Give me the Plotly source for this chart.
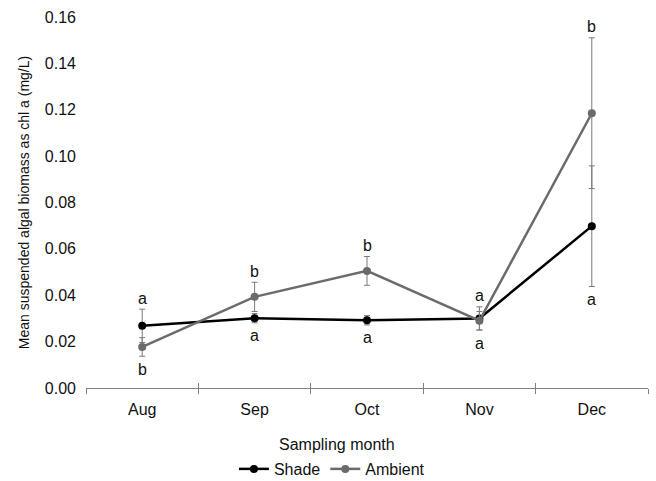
import plotly.graph_objects as go

# Sampling months and mean suspended algal biomass (chl a, mg/L)
months = ["Aug", "Sep", "Oct", "Nov", "Dec"]
shade_mean = [0.0268, 0.0301, 0.0292, 0.0300, 0.0698]
shade_err = [0.0072, 0.0020, 0.0020, 0.0050, 0.0260]
ambient_mean = [0.0177, 0.0393, 0.0505, 0.0290, 0.1185]
ambient_err = [0.0040, 0.0063, 0.0062, 0.0040, 0.0325]

# Significance letters placed above / below each month's error bars
top_letters = ["a", "b", "b", "a", "b"]
bottom_letters = ["b", "a", "a", "a", "a"]

FONT = "Liberation Sans, Arial, sans-serif"
ERR_COLOR = "#7a7a7a"
TXT = "#111111"

fig = go.Figure()

fig.add_trace(go.Scatter(
    x=months, y=shade_mean, name="Shade", mode="lines+markers",
    line=dict(color="#000000", width=2.5),
    marker=dict(color="#000000", size=8),
    error_y=dict(type="data", array=shade_err, visible=True,
                 color=ERR_COLOR, thickness=1, width=3),
))
fig.add_trace(go.Scatter(
    x=months, y=ambient_mean, name="Ambient", mode="lines+markers",
    line=dict(color="#6b6b6b", width=2.5),
    marker=dict(color="#6b6b6b", size=8),
    error_y=dict(type="data", array=ambient_err, visible=True,
                 color=ERR_COLOR, thickness=1, width=3),
))

# letters sit just beyond the outermost error-bar end of each month
for i, m in enumerate(months):
    hi = max(shade_mean[i] + shade_err[i], ambient_mean[i] + ambient_err[i])
    lo = min(shade_mean[i] - shade_err[i], ambient_mean[i] - ambient_err[i])
    fig.add_annotation(x=m, y=hi, text=top_letters[i], showarrow=False,
                       yanchor="middle", yshift=11,
                       font=dict(family=FONT, size=16, color=TXT))
    fig.add_annotation(x=m, y=lo, text=bottom_letters[i], showarrow=False,
                       yanchor="middle", yshift=-13,
                       font=dict(family=FONT, size=16, color=TXT))

fig.add_annotation(text="Sampling month", xref="paper", yref="paper",
                   x=0.4466, y=-0.1536, showarrow=False,
                   xanchor="center", yanchor="middle",
                   font=dict(family=FONT, size=16, color=TXT))

fig.update_layout(
    width=656, height=481,
    margin=dict(l=86, r=8, t=17, b=93, autoexpand=False),
    paper_bgcolor="white", plot_bgcolor="white",
    font=dict(family=FONT, size=16, color=TXT),
    showlegend=True,
    legend=dict(orientation="h", xref="container", yref="container",
                x=0.506, y=0.025, xanchor="center", yanchor="middle",
                font=dict(family=FONT, size=16, color=TXT),
                itemwidth=30, tracegroupgap=0, bgcolor="rgba(0,0,0,0)"),
    xaxis=dict(
        type="category", categoryorder="array", categoryarray=months,
        range=[-0.5, 4.5], showline=True, linecolor="#808080", linewidth=1,
        ticks="outside", ticklen=5, tickcolor="#808080", tickson="boundaries",
        showgrid=False, zeroline=False, ticklabelstandoff=7, automargin=False,
        tickfont=dict(family=FONT, size=16, color=TXT),
    ),
    xaxis2=dict(
        type="category", categoryorder="array", categoryarray=months,
        overlaying="x", matches="x", side="bottom", anchor="y",
        range=[-0.5, 4.5], showline=False, ticks="inside", ticklen=5,
        tickcolor="#808080", tickson="boundaries", showticklabels=False,
        showgrid=False, zeroline=False, automargin=False,
    ),
    yaxis=dict(
        range=[0, 0.16], dtick=0.02, tickformat=".2f", showline=False,
        showgrid=False, zeroline=False, ticks="", ticklabelstandoff=9,
        automargin=False,
        tickfont=dict(family=FONT, size=16, color=TXT),
        title=dict(text="Mean suspended algal biomass as chl a (mg/L)",
                   standoff=11, font=dict(family=FONT, size=14, color=TXT)),
    ),
)

# invisible trace so the overlay axis with inward ticks is drawn
fig.add_trace(go.Scatter(x=months, y=[None] * len(months), xaxis="x2",
                         showlegend=False, hoverinfo="skip"))

fig.write_html("out.html")
